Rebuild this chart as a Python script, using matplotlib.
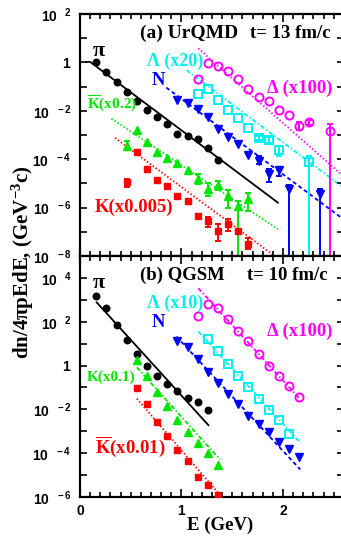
import matplotlib
matplotlib.use("Agg")
import matplotlib.pyplot as plt
import numpy as np
from matplotlib.ticker import MultipleLocator, NullLocator, FuncFormatter

plt.rcParams['font.family'] = 'Liberation Sans'
plt.rcParams['font.weight'] = 'bold'
plt.rcParams['mathtext.fontset'] = 'custom'
plt.rcParams['mathtext.rm'] = 'Liberation Serif:bold'
plt.rcParams['mathtext.bf'] = 'Liberation Serif:bold'
plt.rcParams['mathtext.sf'] = 'Liberation Sans:bold'
plt.rcParams['mathtext.it'] = 'Liberation Serif:italic:bold'
plt.rcParams['mathtext.default'] = 'rm'

# ---------------- panel (a) UrQMD, t = 13 fm/c ----------------
a_pi_E = [0.16, 0.26, 0.36, 0.46, 0.56, 0.66, 0.76, 0.86, 0.96, 1.06, 1.16, 1.26, 1.36]
a_pi_y = [1.0, 4.1e-1, 1.55e-1, 6.0e-2, 2.45e-2, 1.12e-2, 5.5e-3, 2.9e-3, 1.12e-3, 9.5e-4, 6.9e-4, 2.8e-4, 9.5e-5]
a_pi_fitE = [0.06, 0.10, 1.95]
a_pi_fity = [1.05, 1.05, 1.6e-6]

a_N_E = [0.96, 1.06, 1.16, 1.26, 1.36, 1.46, 1.56, 1.66, 1.76, 1.86, 1.96, 2.06, 2.36]
a_N_y = [2.7e-2, 2.1e-2, 1.23e-2, 5.5e-3, 1.8e-3, 8.1e-4, 4.3e-4, 1.55e-4, 8.7e-5, 2.45e-5, 3.6e-5, 5.9e-6, 3.6e-6]
a_N_err_i = [8, 9, 10, 11, 12]
a_N_err_lo = [6.5e-5, 1.1e-5, 2.1e-5, 0, 0]
a_N_err_hi = [1.4e-4, 4.0e-5, 4.9e-5, 8.5e-6, 5.9e-6]
a_N_fitE = [0.85, 2.6]
a_N_fity = [9.1e-2, 3.2e-7]

a_L_E = [1.16, 1.26, 1.36, 1.46, 1.56, 1.66, 1.76, 1.86, 1.96, 2.26]
a_L_y = [5.1e-2, 8.3e-2, 2.7e-2, 1.05e-2, 5.1e-3, 2.0e-3, 7.6e-4, 6.3e-4, 2.3e-4, 7.4e-5]
a_L_err_i = [6, 7, 8, 9]
a_L_err_lo = [6.0e-4, 4.5e-4, 1.4e-4, 0]
a_L_err_hi = [9.5e-4, 7.9e-4, 3.5e-4, 1.4e-4]
a_L_fitE = [1.05, 2.6]
a_L_fity = [4.8e-1, 6.5e-6]

a_D_E = [1.16, 1.26, 1.36, 1.46, 1.56, 1.66, 1.76, 1.86, 1.96, 2.06, 2.16, 2.26, 2.46]
a_D_y = [0.20, 0.95, 0.71, 0.45, 0.20, 7.6e-2, 3.7e-2, 2.45e-2, 1.12e-2, 6.9e-3, 2.34e-3, 3.4e-3, 1.4e-3]
a_D_err_i = [10, 11, 12]
a_D_err_lo = [1.66e-3, 2.7e-3, 0]
a_D_err_hi = [3.4e-3, 4.3e-3, 2.9e-3]
a_D_fitE = [1.165, 2.6]
a_D_fity = [3.8, 1.9e-5]

a_Kb_E = [0.46, 0.56, 0.66, 0.76, 0.86, 0.96, 1.06, 1.16, 1.26, 1.36, 1.46, 1.56, 1.66]
a_Kb_y = [3.6e-4, 1.55e-3, 5.0e-4, 1.95e-4, 1.12e-4, 7.1e-5, 3.6e-5, 1.5e-5, 5.9e-6, 8.9e-6, 3.1e-6, 1.17e-6, 2.2e-6]
a_Kb_err_i = [0, 7, 8, 9, 10, 11, 12]
a_Kb_err_lo = [2.3e-4, 9.5e-6, 3.1e-6, 5.4e-6, 9.5e-7, 0, 7.2e-7]
a_Kb_err_hi = [5.8e-4, 2.4e-5, 1.0e-5, 1.3e-5, 5.4e-6, 1.9e-6, 4.2e-6]
a_Kb_fitE = [0.31, 1.95]
a_Kb_fity = [4.7e-3, 1.3e-7]

a_K_E = [0.46, 0.56, 0.66, 0.76, 0.86, 0.96, 1.06, 1.16, 1.26, 1.36, 1.46, 1.56, 1.66]
a_K_y = [1.1e-5, 1.95e-4, 4.0e-5, 1.38e-5, 7.9e-6, 3.1e-6, 1.9e-6, 4.6e-7, 2.8e-7, 1.1e-7, 2.1e-7, 1.1e-7, 3.1e-8]
a_K_err_i = [0, 7, 8, 9, 10, 12]
a_K_err_lo = [6.9e-6, 3.6e-7, 1.6e-7, 4.3e-8, 1.1e-7, 1.95e-8]
a_K_err_hi = [1.5e-5, 5.5e-7, 4.2e-7, 2.1e-7, 3.3e-7, 5.8e-8]
a_K_fitE = [0.345, 1.94]
a_K_fity = [7.6e-4, 8.5e-9]

# ---------------- panel (b) QGSM, t = 10 fm/c ----------------
b_pi_E = [0.16, 0.26, 0.36, 0.46, 0.56, 0.66, 0.76, 0.86, 0.96, 1.06, 1.16, 1.26]
b_pi_y = [1.5e3, 4.2e2, 72, 15, 3.4, 1.0, 0.35, 0.14, 6.8e-2, 3.4e-2, 2.1e-2, 9.8e-3]
b_pi_fitE = [0.165, 1.265]
b_pi_fity = [760, 1.9e-3]

b_N_E = [0.96, 1.06, 1.16, 1.26, 1.36, 1.46, 1.56, 1.66, 1.76, 1.86, 1.96, 2.06, 2.16]
b_N_y = [13.8, 7.2, 2.0, 0.50, 0.158, 5.1e-2, 1.7e-2, 4.8e-3, 2.1e-3, 9.3e-4, 3.2e-4, 1.48e-4, 6.8e-5]
b_N_fitE = [0.95, 2.17]
b_N_fity = [21, 1.8e-5]

b_L_E = [1.26, 1.36, 1.46, 1.56, 1.66, 1.76, 1.86, 1.96, 2.06]
b_L_y = [16.2, 4.8, 1.12, 0.32, 0.105, 3.1e-2, 9.8e-3, 3.2e-3, 7.9e-4]
b_L_fitE = [1.165, 2.17]
b_L_fity = [36, 3.0e-4]

b_D_E = [1.16, 1.26, 1.36, 1.46, 1.56, 1.66, 1.76, 1.86, 1.96, 2.06, 2.16]
b_D_y = [186, 676, 417, 132, 36, 12.6, 3.2, 1.0, 0.35, 0.115, 3.6e-2]
b_D_fitE = [1.165, 2.16]
b_D_fity = [3400, 3.2e-2]

b_K_E = [0.56, 0.66, 0.76, 0.86, 0.96, 1.06, 1.16, 1.26, 1.36]
b_K_y = [1.8, 0.32, 6.2e-2, 1.38e-2, 3.4e-3, 9.3e-4, 3.0e-4, 1.02e-4, 2.8e-5]
b_K_fitE = [0.56, 1.38]
b_K_fity = [0.83, 5.1e-5]

b_Kb_E = [0.56, 0.66, 0.76, 0.86, 0.96, 1.06, 1.16, 1.26, 1.36]
b_Kb_y = [9.8e-2, 1.7e-2, 2.6e-3, 6.2e-4, 1.38e-4, 4.5e-5, 8.3e-6, 3.5e-6, 1.3e-6]
b_Kb_fitE = [0.56, 1.38]
b_Kb_fity = [3.1e-2, 1.23e-6]

BLACK, BLUE, CYAN, MAG, GREEN, RED = 'black', '#0000ff', '#00f0f0', '#ff00ff', '#00e600', '#ff0000'

fig = plt.figure(figsize=(3.41, 5.39), dpi=100)
ax1 = fig.add_axes([80/341, 1-256/539, 263.9/341, 242/539])
ax2 = fig.add_axes([80/341, 1-497/539, 263.9/341, 241/539])


def errs(ax, E, y, idx, lo, hi, c):
    xs = [E[i] for i in idx]
    ys = [y[i] for i in idx]
    dn = [v - l for v, l in zip(ys, lo)]
    up = [h - v for v, h in zip(ys, hi)]
    ax.errorbar(xs, ys, yerr=[dn, up], fmt='none', ecolor=c, elinewidth=1.4,
                capsize=2.5, capthick=1.4, zorder=2)


def series(ax, E, y, fE, fy, c, mk, ms, ls, filled=True):
    ax.plot(fE, fy, color=c, ls=ls, lw=1.3, zorder=1)
    if filled:
        ax.plot(E, y, ls='none', marker=mk, ms=ms, color=c, mec=c, zorder=3)
    else:
        ax.plot(E, y, ls='none', marker=mk, ms=ms, mfc='none', mec=c, mew=1.4, zorder=3)


dash = (0, (2.2, 1.6))
dot = (0, (0.8, 1.2))
dashdot = (0, (2.5, 1.2, 0.8, 1.2))

# panel a
series(ax1, a_pi_E, a_pi_y, a_pi_fitE, a_pi_fity, BLACK, 'o', 4.7, '-')
series(ax1, a_N_E, a_N_y, a_N_fitE, a_N_fity, BLUE, 'v', 5.2, dash)
errs(ax1, a_N_E, a_N_y, a_N_err_i, a_N_err_lo, a_N_err_hi, BLUE)
series(ax1, a_L_E, a_L_y, a_L_fitE, a_L_fity, CYAN, 's', 5.3, dashdot, filled=False)
errs(ax1, a_L_E, a_L_y, a_L_err_i, a_L_err_lo, a_L_err_hi, CYAN)
series(ax1, a_D_E, a_D_y, a_D_fitE, a_D_fity, MAG, 'o', 5.8, dot, filled=False)
errs(ax1, a_D_E, a_D_y, a_D_err_i, a_D_err_lo, a_D_err_hi, MAG)
series(ax1, a_Kb_E, a_Kb_y, a_Kb_fitE, a_Kb_fity, GREEN, '^', 5.2, dot)
errs(ax1, a_Kb_E, a_Kb_y, a_Kb_err_i, a_Kb_err_lo, a_Kb_err_hi, GREEN)
series(ax1, a_K_E, a_K_y, a_K_fitE, a_K_fity, RED, 's', 4.3, dot)
errs(ax1, a_K_E, a_K_y, a_K_err_i, a_K_err_lo, a_K_err_hi, RED)

# panel b
series(ax2, b_pi_E, b_pi_y, b_pi_fitE, b_pi_fity, BLACK, 'o', 4.7, '-')
series(ax2, b_N_E, b_N_y, b_N_fitE, b_N_fity, BLUE, 'v', 5.2, dash)
series(ax2, b_L_E, b_L_y, b_L_fitE, b_L_fity, CYAN, 's', 5.3, dashdot, filled=False)
series(ax2, b_D_E, b_D_y, b_D_fitE, b_D_fity, MAG, 'o', 5.8, dashdot, filled=False)
series(ax2, b_K_E, b_K_y, b_K_fitE, b_K_fity, GREEN, '^', 5.2, dashdot)
series(ax2, b_Kb_E, b_Kb_y, b_Kb_fitE, b_Kb_fity, RED, 's', 4.3, dot)


def ylab(v, pos):
    e = int(round(np.log10(v)))
    if e % 2:
        return ''
    if e == 0:
        return r'$\mathsf{1}$'
    return r'$\mathsf{10^{\quad %d}}$' % e


for ax, lo, hi in ((ax1, -8, 2), (ax2, -6, 5)):
    ax.set_yscale('log')
    ax.set_ylim(10.0**lo, 10.0**hi)
    ax.set_xlim(0, 2.6)
    ax.set_yticks([10.0**k for k in range(lo, hi + 1)])
    ax.yaxis.set_minor_locator(NullLocator())
    ax.yaxis.set_major_formatter(FuncFormatter(ylab))
    ax.xaxis.set_major_locator(MultipleLocator(1))
    ax.xaxis.set_minor_locator(MultipleLocator(0.1))
    ax.tick_params(which='both', direction='in', top=True, right=True, width=1.2)
    ax.tick_params(which='major', length=6, labelsize=10, pad=4)
    ax.tick_params(axis='y', which='major', length=5, pad=6)
    ax.tick_params(which='minor', length=3.5)
    for s in ax.spines.values():
        s.set_linewidth(1.6)

ax1.tick_params(axis='x', labelbottom=False)
ax2.tick_params(axis='x', pad=5)

serif = dict(family='Liberation Serif', weight='bold')

# panel a labels
ax1.text(0.227, 0.921, '(a) UrQMD', transform=ax1.transAxes, size=14, va='center', **serif)
ax1.text(0.644, 0.921, 't= 13 fm/c', transform=ax1.transAxes, size=13.5, va='center', **serif)
ax1.text(0.070, 0.847, 'π', transform=ax1.transAxes, size=16, ha='center', va='center',
         family='Liberation Serif')
ax1.text(0.252, 0.804, 'Λ (x20)', transform=ax1.transAxes, size=13, color=CYAN, va='center', **serif)
ax1.text(0.296, 0.727, 'N', transform=ax1.transAxes, size=13.5, color=BLUE, ha='center', va='center', **serif)
ax1.text(0.709, 0.694, 'Δ (x100)', transform=ax1.transAxes, size=13.5, color=MAG, va='center', **serif)
ax1.text(0.027, 0.630, r'$\overline{\mathrm{K}}$(x0.2)', transform=ax1.transAxes, size=11,
         color=GREEN, va='center', **serif)
ax1.text(0.057, 0.202, 'K(x0.005)', transform=ax1.transAxes, size=13.5, color=RED, va='center', **serif)

# panel b labels
ax2.text(0.227, 0.921, '(b) QGSM', transform=ax2.transAxes, size=13.5, va='center', **serif)
ax2.text(0.633, 0.921, 't= 10 fm/c', transform=ax2.transAxes, size=13.5, va='center', **serif)
ax2.text(0.070, 0.888, 'π', transform=ax2.transAxes, size=16, ha='center', va='center',
         family='Liberation Serif')
ax2.text(0.252, 0.805, 'Λ (x10)', transform=ax2.transAxes, size=13, color=CYAN, va='center', **serif)
ax2.text(0.296, 0.726, 'N', transform=ax2.transAxes, size=13.5, color=BLUE, ha='center', va='center', **serif)
ax2.text(0.709, 0.689, 'Δ (x100)', transform=ax2.transAxes, size=13.5, color=MAG, va='center', **serif)
ax2.text(0.027, 0.498, 'K(x0.1)', transform=ax2.transAxes, size=11, color=GREEN, va='center', **serif)
ax2.text(0.057, 0.210, r'$\overline{\mathrm{K}}$(x0.01)', transform=ax2.transAxes, size=13.5,
         color=RED, va='center', **serif)

fig.text(23/341, 1-262/539, 'dn/4πpEdE, (GeV$^{-3}$c)', rotation=90, size=15,
         ha='center', va='center', **serif)
fig.text(220/341, 1-525/539, 'E (GeV)', size=13.5, ha='center', va='center', **serif)

fig.savefig('out.png', dpi=100)
